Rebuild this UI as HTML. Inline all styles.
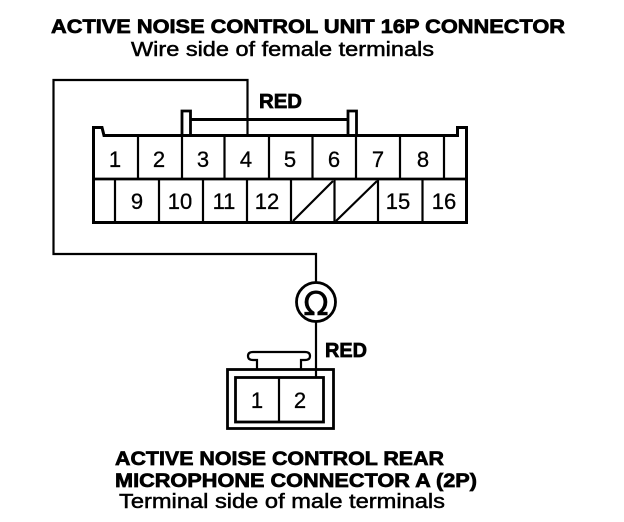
<!DOCTYPE html>
<html>
<head>
<meta charset="utf-8">
<style>
html,body{margin:0;padding:0;background:#fff;width:624px;height:522px;overflow:hidden}
svg{display:block}
text{font-family:"Liberation Sans",sans-serif;fill:#000}
.b{font-weight:bold;stroke:#000;stroke-width:.7px}
.r{stroke:#000;stroke-width:.5px}
.n{font-size:22px;text-anchor:middle;stroke:#000;stroke-width:.3px}
</style>
</head>
<body>
<svg width="624" height="522" viewBox="0 0 624 522" xmlns="http://www.w3.org/2000/svg">
<g fill="none" stroke="#000" stroke-linejoin="miter">
  <!-- wires -->
  <path d="M247.5 135V80H53.5V254H316V282" stroke-width="2.200"/>
  <path d="M316 322V377" stroke-width="2.200"/>
  <circle cx="316" cy="302" r="19.5" stroke-width="2.800"/>
  <!-- 16P connector -->
  <path d="M93.5 222.5V127.5H102L104 135.5H457.5V127.5H466.5V222.5Z" stroke-width="3"/>
  <path d="M93.5 179H466.5" stroke-width="2.800"/>
  <path d="M138 135V179M182 135V179M224.500 135V179M269 135V179M312.500 135V179M356 135V179M400 135V179M444 135V179" stroke-width="2.200"/>
  <path d="M115 179V222M159 179V222M203 179V222M247 179V222M291 179V222M334.500 179V222M378 179V222M422.500 179V222" stroke-width="2.200"/>
  <path d="M293 221L333 181M336 221L377 181" stroke-width="2.200"/>
  <!-- lock -->
  <path d="M182 135V111H190.500V135M348 135V111H356.500V135" stroke-width="2.800"/>
  <path d="M191 119.500H348" stroke-width="3"/>
  <!-- 2P connector -->
  <rect x="227.500" y="369.500" width="106" height="59" stroke-width="2.800"/>
  <rect x="235.500" y="377.500" width="88" height="44.500" stroke-width="2.800"/>
  <path d="M279 377.500V422" stroke-width="2.200"/>
  <path d="M257 369V360H253Q248 360 248 356Q248 352 253 352H305Q310 352 310 356Q310 360 305 360H301V369" stroke-width="2.200"/>
</g>
<!-- headings -->
<text class="b" x="51" y="33" font-size="19" textLength="514" lengthAdjust="spacingAndGlyphs">ACTIVE NOISE CONTROL UNIT 16P CONNECTOR</text>
<text class="r" x="131" y="56" font-size="20" textLength="303" lengthAdjust="spacingAndGlyphs">Wire side of female terminals</text>
<text class="b" x="259" y="108" font-size="20" textLength="43" lengthAdjust="spacingAndGlyphs">RED</text>
<text class="b" x="325" y="357" font-size="20" textLength="42" lengthAdjust="spacingAndGlyphs">RED</text>
<text class="b" x="115" y="465" font-size="19.500" textLength="329" lengthAdjust="spacingAndGlyphs">ACTIVE NOISE CONTROL REAR</text>
<text class="b" x="115" y="487" font-size="19.500" textLength="362" lengthAdjust="spacingAndGlyphs">MICROPHONE CONNECTOR A (2P)</text>
<text class="r" x="119" y="508" font-size="20" textLength="326" lengthAdjust="spacingAndGlyphs">Terminal side of male terminals</text>
<!-- pin numbers -->
<g>
  <text class="n" x="115" y="167">1</text>
  <text class="n" x="159" y="167">2</text>
  <text class="n" x="203" y="167">3</text>
  <text class="n" x="246" y="167">4</text>
  <text class="n" x="290" y="167">5</text>
  <text class="n" x="334" y="167">6</text>
  <text class="n" x="378" y="167">7</text>
  <text class="n" x="423" y="167">8</text>
  <text class="n" x="137" y="209">9</text>
  <text class="n" x="180" y="209">10</text>
  <text class="n" x="224" y="209">11</text>
  <text class="n" x="267" y="209">12</text>
  <text class="n" x="398" y="209">15</text>
  <text class="n" x="444" y="209">16</text>
  <text class="n" x="257" y="408">1</text>
  <text class="n" x="300" y="408">2</text>
</g>
<text x="316" y="315" font-size="33" text-anchor="middle" style="font-family:'DejaVu Sans',sans-serif" stroke="#000" stroke-width=".5">Ω</text>
</svg>
</body>
</html>
